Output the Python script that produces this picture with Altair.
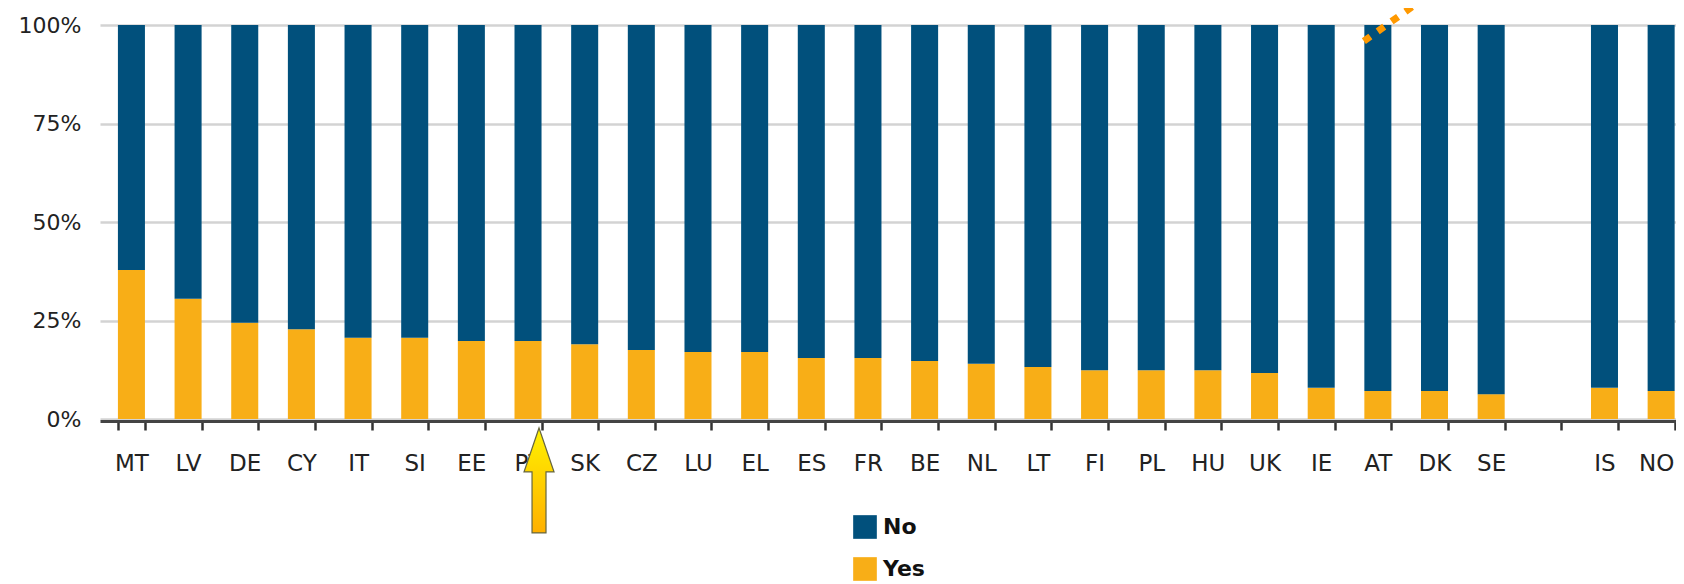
import altair as alt
import pandas as pd

# ---- data ----
countries = ["MT", "LV", "DE", "CY", "IT", "SI", "EE", "PT", "SK", "CZ", "LU", "EL", "ES", "FR",
             "BE", "NL", "LT", "FI", "PL", "HU", "UK", "IE", "AT", "DK", "SE", "IS", "NO"]
yes_share = [37.8, 30.5, 24.4, 22.8, 20.6, 20.6, 19.8, 19.8, 19.0, 17.5, 17.0, 17.0, 15.5, 15.5,
             14.7, 14.0, 13.2, 12.4, 12.4, 12.4, 11.7, 7.9, 7.1, 7.1, 6.3, 7.9, 7.1]
gap_slot = [" "]
axis_order = countries[:25] + gap_slot + countries[25:]
answers = ["No", "Yes"]
answer_colors = ["#01507C", "#F8AE17"]
y_ticks = [0, 0.25, 0.5, 0.75, 1]

# annotations (in data units)
arrow_country = ["PT"]
arrow_level = [-0.156]
dotted_country = ["AT"]
dotted_from = [0.959]
dotted_to = [1.089]

rows = []
for c, y in zip(countries, yes_share):
    rows.append({"country": c, "answer": "Yes", "share": y / 100, "rank": 0})
    rows.append({"country": c, "answer": "No", "share": 1 - y / 100, "rank": 1})
df = pd.DataFrame(rows)

FONT = "DejaVu Sans"

x_scale = alt.Scale(domain=axis_order, paddingInner=0.523, paddingOuter=0.17, align=0.93)
y_scale = alt.Scale(domain=[0, 1], nice=False)

bars = alt.Chart(df).mark_bar().encode(
    x=alt.X("country:N", scale=x_scale, sort=None, title=None,
            axis=alt.Axis(title=None, labelAngle=0, tickBand="extent", grid=False,
                          domainColor="#444444", domainWidth=3, tickColor="#333333",
                          tickWidth=2.5, tickSize=9, labelFontSize=23, labelFont=FONT,
                          labelColor="#222222", labelPadding=22, offset=2,
                          labelOffset={"condition": {"test": "datum.value === 'NO'",
                                                     "value": -5},
                                       "value": 0})),
    y=alt.Y("share:Q", stack="zero", scale=y_scale, title=None,
            axis=alt.Axis(title=None, values=y_ticks, format=".0%", domain=False, ticks=False,
                          tickSize=0, grid=True, gridColor="#d3d3d3", gridWidth=2.5,
                          labelFontSize=22, labelFont=FONT, labelColor="#222222",
                          labelPadding=19)),
    color=alt.Color("answer:N", scale=alt.Scale(domain=answers, range=answer_colors),
                    legend=alt.Legend(title=None, orient="none", legendX=753, legendY=490,
                                      direction="vertical", symbolType="square",
                                      symbolSize=560, symbolStrokeWidth=0,
                                      labelFontSize=22, labelFontWeight="bold",
                                      labelFont=FONT, labelColor="#111111",
                                      rowPadding=18, labelOffset=6, padding=0)),
    order=alt.Order("rank:Q"),
)

ARROW = ("M0,-1 L0.286,-0.162 L0.133,-0.162 L0.133,1 L-0.133,1 L-0.133,-0.162 "
         "L-0.286,-0.162 Z")
arrow_df = pd.DataFrame({"country": arrow_country, "level": arrow_level})
arrow = alt.Chart(arrow_df).mark_point(
    shape=ARROW, size=11025, filled=True, opacity=1, xOffset=11, clip=False,
    fill=alt.Gradient(gradient="linear",
                      stops=[alt.GradientStop(color="#FFF200", offset=0),
                             alt.GradientStop(color="#FFB000", offset=1)],
                      x1=0, x2=0, y1=0, y2=1),
    stroke="#666640", strokeWidth=1.2,
).encode(
    x=alt.X("country:N", title=None),
    y=alt.Y("level:Q", title=None),
)

dots_df = pd.DataFrame({"country": dotted_country, "start": dotted_from, "end": dotted_to})
dots = alt.Chart(dots_df).mark_rule(
    color="#FF9900", strokeWidth=7, strokeDash=[8, 9], xOffset=-14, x2Offset=58, clip=False
).encode(
    x=alt.X("country:N", title=None),
    x2=alt.X2("country"),
    y=alt.Y("start:Q", title=None),
    y2=alt.Y2("end"),
)

chart = alt.layer(bars, arrow, dots).properties(
    width=1576, height=394,
    autosize=alt.AutoSizeParams(type="none"),
    padding={"left": 92, "top": 17, "right": 0, "bottom": 165},
    background="white",
).configure_view(stroke=None)

chart.save("out.html", embed_options={"renderer": "svg", "actions": False})
